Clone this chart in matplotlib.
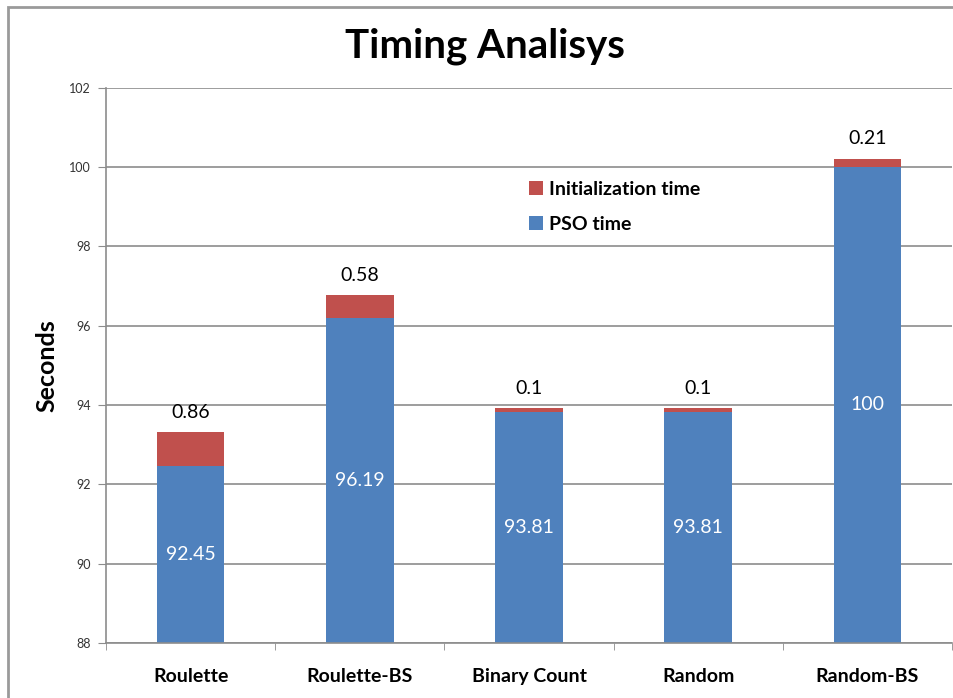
import matplotlib.pyplot as plt
from matplotlib.patches import Rectangle
import numpy as np

# DATA
methods = ["Roulette", "Roulette-BS", "Binary Count", "Random", "Random-BS"]
pso_time = [92.45, 96.19, 93.81, 93.81, 100]
init_time = [0.86, 0.58, 0.1, 0.1, 0.21]
pso_labels = ["92.45", "96.19", "93.81", "93.81", "100"]
init_labels = ["0.86", "0.58", "0.1", "0.1", "0.21"]
y_ticks = [88, 90, 92, 94, 96, 98, 100, 102]

BLUE = "#4F81BD"
RED = "#C0504D"
GRID = "#8C8C8C"

plt.rcParams["font.family"] = ["Lato", "DejaVu Sans"]

fig = plt.figure(figsize=(9.54, 6.98), dpi=100)
ax = fig.add_axes([106 / 954, 1 - 643 / 698, (952 - 106) / 954, (643 - 87.5) / 698])

# OUTER FRAME OF THE CHART AREA
fig.patches.append(Rectangle((8 / 954, -0.1), 1.2, 1.1 - 7.5 / 698,
                             transform=fig.transFigure, fill=False,
                             edgecolor="#9A9A9A", linewidth=2, clip_on=False))

x = np.arange(len(methods))
ymin, ymax = 88, 102
ax.bar(x, pso_time, width=0.4, color=BLUE, label="PSO time", zorder=2)
ax.bar(x, init_time, width=0.4, bottom=pso_time, color=RED,
       label="Initialization time", zorder=2)

ax.set_ylim(ymin, ymax)
ax.set_xlim(-0.5, len(methods) - 0.5)

# VALUE LABELS
for i in range(len(methods)):
    mid = (ymin + pso_time[i]) / 2
    ax.text(x[i], mid, pso_labels[i], ha="center", va="center",
            color="white", fontsize=14, zorder=3)
    top = pso_time[i] + init_time[i]
    ax.text(x[i], top + 0.5, init_labels[i], ha="center", va="center",
            color="black", fontsize=14, zorder=3)

# AXES STYLE
ax.set_yticks(y_ticks)
ax.set_yticklabels([str(t) for t in y_ticks], fontsize=9, color="#333333")
ax.yaxis.grid(True, color=GRID, linewidth=1.2, zorder=0)
ax.set_axisbelow(True)
ax.tick_params(axis="y", length=6, color=GRID, pad=5)

ax.set_xticks(x)
ax.set_xticklabels(methods, fontsize=14, fontweight="bold")
ax.tick_params(axis="x", length=0, pad=18)
ax.set_xticks(np.arange(len(methods) + 1) - 0.5, minor=True)
ax.tick_params(axis="x", which="minor", length=5, color=GRID)

for side in ["top", "right"]:
    ax.spines[side].set_visible(False)
for side in ["left", "bottom"]:
    ax.spines[side].set_color(GRID)
    ax.spines[side].set_linewidth(1.2)

ax.set_ylabel("Seconds", fontsize=18, fontweight="bold")
ax.yaxis.set_label_coords((58 - 106) / 846, 0.5)

fig.text(485 / 954, 1 - 46 / 698, "Timing Analisys", ha="center", va="center",
         fontsize=29, fontweight="bold")

handles, labels = ax.get_legend_handles_labels()
ax.legend(handles[::-1], labels[::-1], loc="upper left",
          bbox_to_anchor=((529 - 106) / 846, 1 - (181 - 87.5) / 555.5),
          borderaxespad=0, borderpad=0,
          frameon=False, prop={"weight": "bold", "size": 14},
          handlelength=0.72, handleheight=0.72, handletextpad=0.3,
          labelspacing=0.9)

fig.savefig("out.png", dpi=100)
